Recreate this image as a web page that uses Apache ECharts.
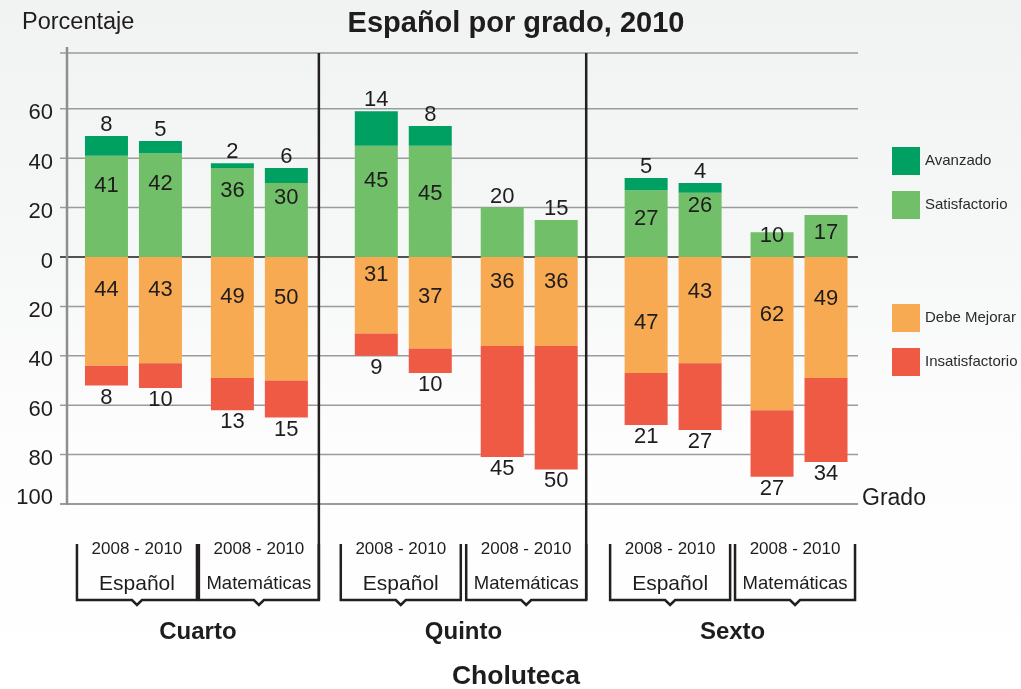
<!DOCTYPE html>
<html>
<head>
<meta charset="utf-8">
<script src="https://cdn.jsdelivr.net/npm/echarts@6/dist/echarts.min.js"></script>
<style>
  html, body { margin: 0; padding: 0; background: #ffffff; }
  #chart {
    width: 1021px; height: 689px;
    background: linear-gradient(to bottom, #f1f2f2 0%, #f6f7f7 35%, #fdfdfd 65%, #ffffff 100%);
  }
</style>
</head>
<body>
<div id="chart"></div>
<script>
// ---- Data -------------------------------------------------------------
const grades = ['Cuarto', 'Quinto', 'Sexto'];
const subjects = ['Español', 'Matemáticas'];
const years = ['2008', '2010'];
const periodLabel = '2008 - 2010';
const regionLabel = 'Choluteca';

// one value per bar: grade → subject → year
const avanzado        = [8, 5, 2, 6, 14, 8, 0, 0, 5, 4, 0, 0];
const satisfactorio   = [41, 42, 36, 30, 45, 45, 20, 15, 27, 26, 10, 17];
const debeMejorar     = [44, 43, 49, 50, 31, 37, 36, 36, 47, 43, 62, 49];
const insatisfactorio = [8, 10, 13, 15, 9, 10, 45, 50, 21, 27, 27, 34];

const yTicks = [60, 40, 20, 0, -20, -40, -60, -80, -100];

// ---- Look ---------------------------------------------------------------
const FONT = '"Liberation Sans", Arial, Helvetica, sans-serif';
const INK = '#1e1c1d';
const GRID_GRAY = '#9b9b9b';
const COLORS = {
  Avanzado: '#00a063',
  Satisfactorio: '#72bf6a',
  'Debe Mejorar': '#f8aa53',
  Insatisfactorio: '#ef5a45'
};

// label nudges (px below the bar's upper edge) for the inner labels
const satLabelDrop = [19, 20, 12, 4, 24, 37, 0, 0, 18, 2, -7, 7];
const satLabelAbove = [6, 7];
const mejorarLabelDrop = [22, 22, 29, 30, 7, 29, 14, 14, 55, 24, 47, 31];
// horizontal nudge of each subject bracket relative to its bar pair (px)
const bracketShift = [3.5, -0.5, -2.5, -3, -3, -4];

// bars sit on a fine category grid: pairs of years, subjects, grades
const SLOT_PAD = 2, SLOT_COUNT = 44;
function slotOf(i) {
  const g = Math.floor(i / 4), s = Math.floor((i % 4) / 2), y = i % 2;
  return SLOT_PAD + g * 15 + s * 7 + y * 3;
}
const slotNames = Array.from({ length: SLOT_COUNT }, (_, k) => 'slot' + k);
avanzado.forEach((_, i) => {
  slotNames[slotOf(i)] = grades[Math.floor(i / 4)] + ' ' +
    subjects[Math.floor((i % 4) / 2)] + ' ' + years[i % 2];
});

const valueText = p => {
  const v = Math.abs(p.value[1]);
  return v ? String(v) : '';
};
const baseLabel = { show: true, fontSize: 22, fontFamily: FONT, color: INK, formatter: valueText };

function items(values, sign, labelFor) {
  return values.map((v, i) => {
    const item = { value: [slotOf(i), sign * v] };
    if (labelFor) item.label = labelFor(i);
    return item;
  });
}

function barSeries(name, values, sign, label, labelFor) {
  return {
    name, type: 'bar', stack: 'niveles', barWidth: 43,
    itemStyle: { color: COLORS[name] },
    label: Object.assign({}, baseLabel, label),
    emphasis: { disabled: true },
    data: items(values, sign, labelFor)
  };
}

const chart = echarts.init(document.getElementById('chart'), null, { renderer: 'canvas' });

const option = {
  backgroundColor: 'transparent',
  animation: false,
  grid: { left: 61.5, right: 168, top: 59.4, bottom: 185 },
  xAxis: {
    type: 'category', data: slotNames, boundaryGap: true,
    axisLine: { show: false }, axisTick: { show: false },
    axisLabel: { show: false }, splitLine: { show: false }
  },
  yAxis: {
    type: 'value', min: -100, max: 80, interval: 20, offset: -5.5,
    axisLine: { show: false, onZero: false }, axisTick: { show: false },
    splitLine: { show: false },
    axisLabel: {
      showMaxLabel: false, margin: 14,
      formatter: v => v === 80 ? '' : (v === -100 ? '{low|100}' : '{n|' + Math.abs(v) + '}'),
      rich: {
        n: { fontSize: 22, fontFamily: FONT, color: INK, padding: [9, 0, 0, 0] },
        low: { fontSize: 22, fontFamily: FONT, color: INK, padding: [0, 0, 13, 0] }
      }
    }
  },
  legend: [
    {
      data: ['Avanzado', 'Satisfactorio'], orient: 'vertical', left: 892, top: 147,
      itemWidth: 28, itemHeight: 28, itemGap: 16, icon: 'rect', padding: 0,
      textStyle: { fontSize: 15, fontFamily: FONT, color: '#2b2b2b' }
    },
    {
      data: ['Debe Mejorar', 'Insatisfactorio'], orient: 'vertical', left: 892, top: 304,
      itemWidth: 28, itemHeight: 28, itemGap: 16, icon: 'rect', padding: 0,
      textStyle: { fontSize: 15, fontFamily: FONT, color: '#2b2b2b' }
    }
  ],
  series: [
    barSeries('Satisfactorio', satisfactorio, 1, { position: 'insideTop' }, i =>
      satLabelAbove.includes(i)
        ? { position: 'top', distance: 0 }
        : { position: 'insideTop', distance: satLabelDrop[i] }),
    barSeries('Avanzado', avanzado, 1, { position: 'top', distance: 0 }),
    barSeries('Debe Mejorar', debeMejorar, -1, { position: 'insideTop' }, i =>
      ({ position: 'insideTop', distance: mejorarLabelDrop[i] })),
    barSeries('Insatisfactorio', insatisfactorio, -1, { position: 'bottom', distance: 1 })
  ]
};

chart.setOption(option);

// ---- Frame, gridlines, brackets and captions drawn from the axes ------
const px = k => chart.convertToPixel({ xAxisIndex: 0 }, k);
const py = v => chart.convertToPixel({ yAxisIndex: 0 }, v);

const axisX = 67, lineLeft = 60, lineRight = 858;
const frameTop = py(82.6), axisTop = py(85), floorY = py(-100);
const bracketTop = 544, bracketBottom = 600, notch = 5, bracketHalf = 60;
const stroke = (color, w) => ({ stroke: color, lineWidth: w, fill: 'none' });
const text = (x, y, str, size, weight, align) => ({
  type: 'text', x, y, silent: true,
  style: {
    text: str, fontSize: size, fontWeight: weight || 'normal', fontFamily: FONT, fill: INK,
    align: align || 'center', textAlign: align || 'center',
    verticalAlign: 'middle', textVerticalAlign: 'middle'
  }
});

const g = [];
// horizontal gridlines and the top frame line
yTicks.forEach(v => {
  const y = py(v);
  g.push({ type: 'line', silent: true, shape: { x1: lineLeft, y1: y, x2: lineRight, y2: y },
    style: v === 0 ? stroke('#1a1a1a', 1.5) : stroke(GRID_GRAY, v === -100 ? 2 : 1.5) });
});
g.push({ type: 'line', silent: true, shape: { x1: lineLeft, y1: frameTop, x2: lineRight, y2: frameTop },
  style: stroke(GRID_GRAY, 1.5) });
// vertical value axis
g.push({ type: 'line', silent: true, shape: { x1: axisX, y1: axisTop, x2: axisX, y2: floorY + 1 },
  style: stroke('#8e8e8e', 2.5) });

// brackets under each subject pair, grade captions, grade dividers
grades.forEach((grade, gi) => {
  const edges = [];
  subjects.forEach((subject, si) => {
    const first = gi * 4 + si * 2;
    const c = (px(slotOf(first)) + px(slotOf(first + 1))) / 2 + bracketShift[gi * 2 + si];
    const L = c - bracketHalf, R = c + bracketHalf;
    edges.push(L, R);
    g.push({ type: 'polyline', silent: true, shape: { points: [
      [L, bracketTop], [L, bracketBottom], [c - notch, bracketBottom], [c, bracketBottom + notch],
      [c + notch, bracketBottom], [R, bracketBottom], [R, bracketTop]
    ] }, style: stroke('#231f20', 2.5) });
    g.push(text(c, 549, periodLabel, 17));
    g.push(text(c, 584, subject, subject.length > 8 ? 18.5 : 21));
    if (si === 1 && gi < grades.length - 1) {
      g.push({ type: 'line', silent: true, shape: { x1: R, y1: frameTop, x2: R, y2: bracketBottom },
        style: stroke('#231f20', 2.5) });
    }
  });
  g.push(text((edges[0] + edges[3]) / 2, 632, grade, 24, 'bold'));
});

g.push(text(516, 24, 'Español por grado, 2010', 29, 'bold'));
g.push(text(22, 23, 'Porcentaje', 23.5, 'normal', 'left'));
g.push(text(862, floorY - 5, 'Grado', 23, 'normal', 'left'));
g.push(text(516, 677, regionLabel, 26.5, 'bold'));

chart.setOption({ graphic: { elements: g } });
</script>
</body>
</html>
